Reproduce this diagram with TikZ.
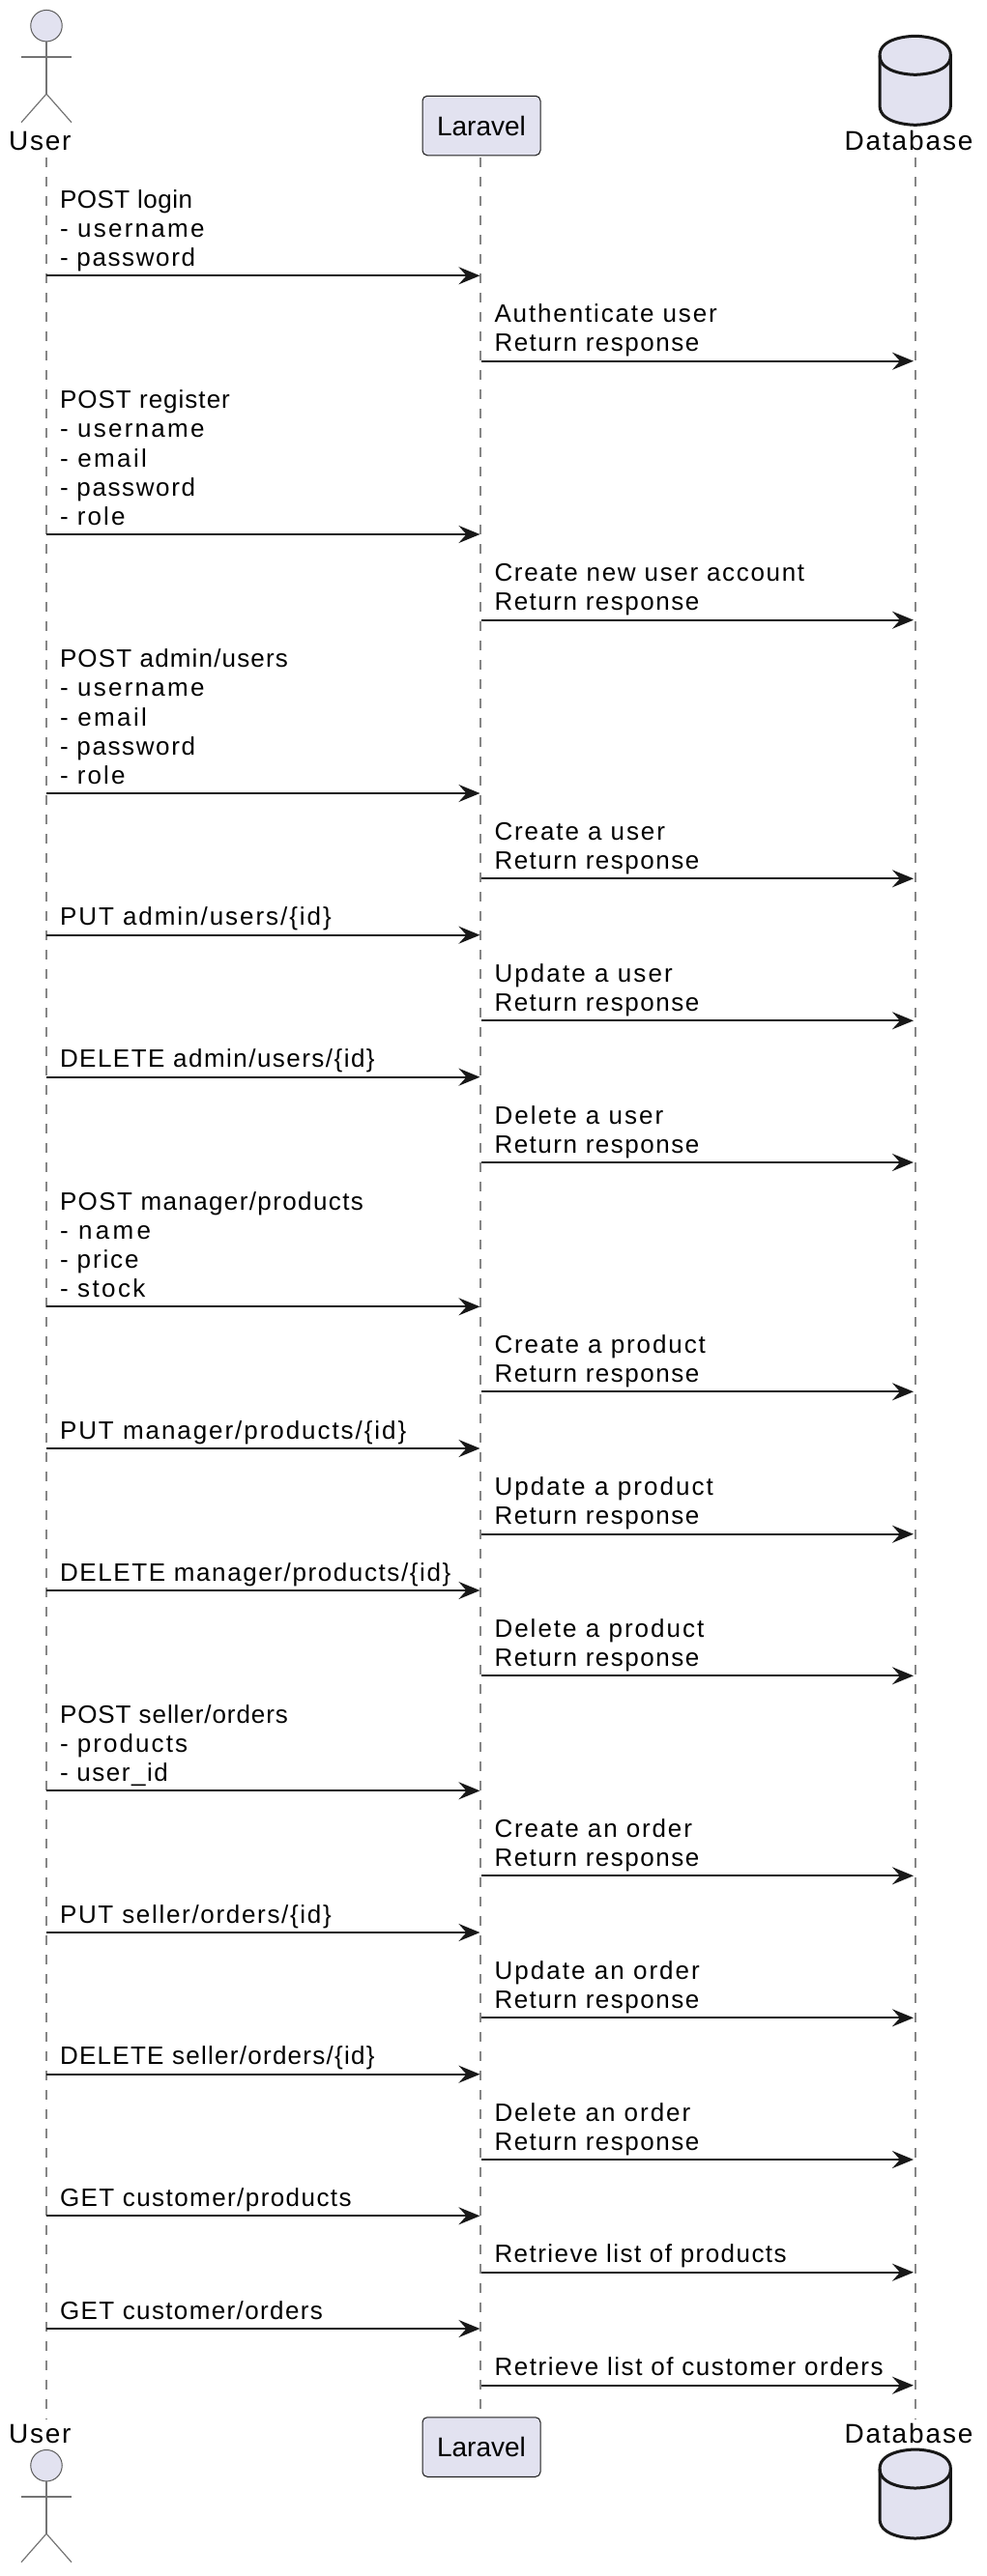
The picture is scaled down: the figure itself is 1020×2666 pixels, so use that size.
\documentclass[tikz,border=0pt]{standalone}
\usepackage{fontspec}
\setmainfont{Liberation Sans}
\newfontfamily\plainf{Liberation Sans}
\newfontfamily\tenf[LetterSpace=10]{Liberation Sans}
\usetikzlibrary{arrows.meta}
\definecolor{ink}{HTML}{181818}
\definecolor{fillc}{HTML}{E2E2F0}
\definecolor{lifec}{HTML}{868686}
% line of letter-spaced text whose ink is #1 wide
\newcommand{\wl}[2]{{%
 \sbox0{\plainf #2}\sbox2{\tenf #2}%
 \pgfmathsetmacro\lsv{10*(#1+2.5-\the\wd0)/(\the\wd2-\the\wd0)}%
 \plainf\edef\tmpfeat{\noexpand\addfontfeature{LetterSpace=\lsv}}\tmpfeat #2}}
\tikzset{
 msg/.style={anchor=base west,inner sep=0pt,align=left,text=black,font=\fontsize{26}{30.1}\selectfont},
 actlabel/.style={anchor=base west,inner sep=0pt,text=black,font=\fontsize{28}{32}\selectfont},
 partbox/.style={draw=ink,fill=fillc,line width=1pt,rounded corners=5pt,minimum width=122pt,minimum height=61.5pt,inner sep=0pt,font=\fontsize{28}{32}\selectfont},
 lifeline/.style={draw=lifec,line width=2pt,dash pattern=on 10pt off 10pt},
 arrowline/.style={draw=ink,line width=2.2pt,-{Stealth[length=22pt,width=18pt,inset=8pt]}},
 actorstroke/.style={draw=ink!60,line width=1.2pt},
 dbshape/.style={draw=ink,fill=fillc,line width=3pt},
}
\newcommand{\actorfig}[2]{%
 \node[circle,draw=ink!70,fill=fillc,line width=1pt,minimum size=32.5pt,inner sep=0pt] (#2) at (48,#1) {};
 \coordinate (#2hip) at (48,#1+70.5);
 \coordinate (#2armL) at (22,#1+32);
 \coordinate (#2armR) at (74,#1+32);
 \coordinate (#2legL) at (22,#1+100);
 \coordinate (#2legR) at (74,#1+100);
 \draw[actorstroke] (#2) -- (#2hip);
 \draw[actorstroke,line width=1.8pt] (#2armL) -- (#2armR);
 \draw[actorstroke] (#2legL) -- (#2hip) -- (#2legR);
}
\newcommand{\dbfig}[1]{%
 \draw[dbshape] (910,#1+20) .. controls (910,#1) and (946.7,#1) .. (946.7,#1)
   .. controls (946.7,#1) and (983.4,#1) .. (983.4,#1+20)
   -- (983.4,#1+72) .. controls (983.4,#1+92) and (946.7,#1+92) .. (946.7,#1+92)
   .. controls (946.7,#1+92) and (910,#1+92) .. (910,#1+72) -- cycle;
 \draw[dbshape,fill=none] (910,#1+20) .. controls (910,#1+40) and (946.7,#1+40) .. (946.7,#1+40)
   .. controls (946.7,#1+40) and (983.4,#1+40) .. (983.4,#1+20);
}
\newcommand{\ms}[4]{% id, y, from (0 user /1 laravel), text
 \ifnum#3=0
  \coordinate (#1a) at (48,#2);\coordinate (#1b) at (496.5,#2);
  \node[msg] (#1) at (61.8,#2-9.8) {#4};
 \else
  \coordinate (#1a) at (498,#2);\coordinate (#1b) at (945,#2);
  \node[msg] (#1) at (511.3,#2-9.8) {#4};
 \fi
 \draw[arrowline] (#1a) -- (#1b);
}
\newcommand{\rr}{\wl{209.3}{Return response}}
\begin{document}
\begin{tikzpicture}[x=1pt,y=-1pt]
\useasboundingbox (0,0) rectangle (1020,2666);
\coordinate (ua) at (48,163);\coordinate (ub) at (48,2504);
\coordinate (la) at (497,163);\coordinate (lb) at (497,2495);
\coordinate (da) at (946.7,163);\coordinate (db) at (946.7,2504);
\draw[lifeline] (ua) -- (ub);
\draw[lifeline] (la) -- (lb);
\draw[lifeline] (da) -- (db);
\actorfig{26.7}{actA}
\actorfig{2551.7}{actB}
\node[actlabel] (userT) at (9,155) {\wl{61.7}{User}};
\node[actlabel] (userB) at (9,2528) {\wl{61.7}{User}};
\node[partbox] (lartop) at (498,130) {Laravel};
\node[partbox] (larbot) at (498,2532.5) {Laravel};
\dbfig{37.3}
\dbfig{2535}
\node[actlabel] (dbT) at (873.3,155) {\wl{130.5}{Database}};
\node[actlabel] (dbB) at (873.3,2528) {\wl{130.5}{Database}};
\ms{m1}{285.3}{0}{\wl{134.7}{POST login}\\\wl{147}{- username}\\\wl{137.5}{- password}}
\ms{m2}{373.7}{1}{\wl{227.8}{Authenticate user}\\\rr}
\ms{m3}{553}{0}{\wl{173.4}{POST register}\\\wl{147}{- username}\\\wl{87.5}{- email}\\\wl{137.5}{- password}\\\wl{65}{- role}}
\ms{m4}{641.7}{1}{\wl{318.2}{Create new user account}\\\rr}
\ms{m5}{821}{0}{\wl{233.4}{POST admin/users}\\\wl{147}{- username}\\\wl{87.5}{- email}\\\wl{137.5}{- password}\\\wl{65}{- role}}
\ms{m6}{909.3}{1}{\wl{174}{Create a user}\\\rr}
\ms{m7}{967.7}{0}{\wl{278.3}{PUT admin/users/\{id\}}}
\ms{m8}{1056.3}{1}{\wl{181.8}{Update a user}\\\rr}
\ms{m9}{1114.7}{0}{\wl{323.2}{DELETE admin/users/\{id\}}}
\ms{m10}{1203}{1}{\wl{172.3}{Delete a user}\\\rr}
\ms{m11}{1352.3}{0}{\wl{311.4}{POST manager/products}\\\wl{91.5}{- name}\\\wl{79}{- price}\\\wl{85.9}{- stock}}
\ms{m12}{1440.3}{1}{\wl{216}{Create a product}\\\rr}
\ms{m13}{1499}{0}{\wl{355.8}{PUT manager/products/\{id\}}}
\ms{m14}{1587.7}{1}{\wl{224}{Update a product}\\\rr}
\ms{m15}{1646}{0}{\wl{401.8}{DELETE manager/products/\{id\}}}
\ms{m16}{1734.3}{1}{\wl{214.4}{Delete a product}\\\rr}
\ms{m17}{1853.3}{0}{\wl{233.4}{POST seller/orders}\\\wl{129.6}{- products}\\\wl{109.4}{- user\_id}}
\ms{m18}{1941.3}{1}{\wl{202}{Create an order}\\\rr}
\ms{m19}{2000}{0}{\wl{278.3}{PUT seller/orders/\{id\}}}
\ms{m20}{2088.3}{1}{\wl{209.9}{Update an order}\\\rr}
\ms{m21}{2146.7}{0}{\wl{323.2}{DELETE seller/orders/\{id\}}}
\ms{m22}{2235}{1}{\wl{200.3}{Delete an order}\\\rr}
\ms{m23}{2293.3}{0}{\wl{299.1}{GET customer/products}}
\ms{m24}{2351.7}{1}{\wl{299.7}{Retrieve list of products}}
\ms{m25}{2410}{0}{\wl{269.4}{GET customer/orders}}
\ms{m26}{2468.7}{1}{\wl{399.6}{Retrieve list of customer orders}}
\end{tikzpicture}
\end{document}
